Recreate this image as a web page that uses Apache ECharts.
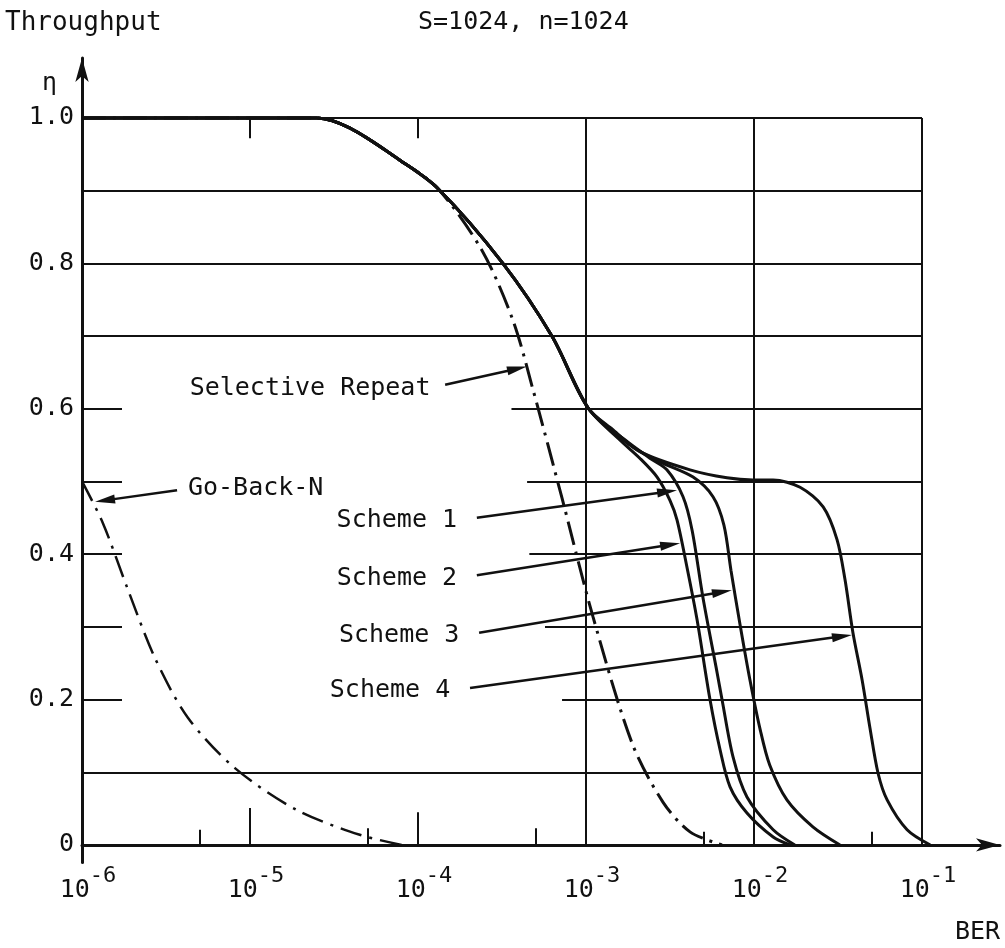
<!DOCTYPE html>
<html>
<head>
<meta charset="utf-8">
<script src="https://cdn.jsdelivr.net/npm/echarts@6/dist/echarts.min.js"></script>
<style>
  html, body { margin: 0; padding: 0; background: #fff; }
  #chart { width: 1005px; height: 948px; }
</style>
</head>
<body>
<div id="chart"></div>
<script>
// Throughput η versus bit error rate, S=1024, n=1024

// Upper branch shared by the four schemes (solid)
const headBER = [1e-6, 1e-5, 2.5e-5, 3.94e-5, 7.8e-5, 1.30e-4, 3.2e-4, 6.3e-4, 1.03e-3];
const headEta = [1.0, 1.0, 1.0, 0.986, 0.942, 0.904, 0.800, 0.699, 0.601];

// Lower branches of each scheme
const scheme1BER = [1.71e-3, 2.40e-3, 3.03e-3, 3.78e-3, 4.28e-3, 4.96e-3, 6.03e-3, 6.45e-3, 7.5e-3, 9.08e-3, 1.30e-2, 1.75e-2];
const scheme1Eta = [0.557, 0.532, 0.516, 0.479, 0.433, 0.341, 0.237, 0.200, 0.121, 0.066, 0.021, 0];

const scheme2BER = [1.59e-3, 2.09e-3, 2.65e-3, 3.16e-3, 3.48e-3, 3.99e-3, 4.58e-3, 5.47e-3, 6.28e-3, 7.2e-3, 9.08e-3, 1.30e-2, 1.64e-2];
const scheme2Eta = [0.557, 0.532, 0.506, 0.474, 0.447, 0.382, 0.310, 0.200, 0.131, 0.080, 0.044, 0.011, 0];

const scheme3BER = [1.83e-3, 2.75e-3, 4.34e-3, 5.70e-3, 6.62e-3, 7.29e-3, 8.26e-3, 9.46e-3, 1.09e-2, 1.24e-2, 1.57e-2, 2.24e-2, 3.25e-2];
const scheme3Eta = [0.550, 0.527, 0.506, 0.479, 0.440, 0.378, 0.303, 0.227, 0.158, 0.110, 0.062, 0.025, 0];

const scheme4BER = [1.45e-3, 2.09e-3, 4.16e-3, 6.9e-3, 9.86e-3, 1.30e-2, 1.88e-2, 2.58e-2, 3.12e-2, 3.48e-2, 3.88e-2, 4.40e-2, 4.9e-2, 5.47e-2, 6.2e-2, 8.15e-2, 0.112];
const scheme4Eta = [0.571, 0.541, 0.516, 0.505, 0.502, 0.502, 0.492, 0.465, 0.420, 0.365, 0.292, 0.227, 0.161, 0.099, 0.062, 0.021, 0];

// Selective Repeat (dash-dot)
const srBER = [1e-6, 1e-5, 2.5e-5, 3.94e-5, 7.8e-5, 1.30e-4, 2.40e-4, 3.67e-4, 4.84e-4, 7.2e-4, 1.10e-3, 1.88e-3, 2.87e-3, 4.16e-3, 6.45e-3];
const srEta = [1.0, 1.0, 1.0, 0.986, 0.942, 0.904, 0.818, 0.722, 0.626, 0.477, 0.314, 0.140, 0.059, 0.018, 0];

// Go-Back-N (dash-dot)
const gbnBER = [1e-6, 1.33e-6, 1.85e-6, 2.72e-6, 4.27e-6, 8.1e-6, 1.9e-5, 4.5e-5, 8.0e-5];
const gbnEta = [0.500, 0.443, 0.355, 0.257, 0.175, 0.106, 0.048, 0.014, 0];

// Tick labels
const yTickValues = [0, 0.2, 0.4, 0.6, 0.8, 1.0];
const xDecadeExponents = [-6, -5, -4, -3, -2, -1];

// Ruled lines of the chart sheet
const RULE_LEFT = 1.001e-6;
const RULE_RIGHT = 1e-1;
const fullRows = [0.1, 0.7, 0.8, 0.9, 1.0];
const brokenRows = [0.2, 0.3, 0.4, 0.5, 0.6];
const brokenRowResume = [7.2e-4, 5.7e-4, 4.6e-4, 4.46e-4, 3.6e-4];
const stubEnd = 1.73e-6;
const ruledColumns = [1e-3, 1e-2, 1e-1];
const bottomTicks = [5e-6, 1e-5, 5e-5, 1e-4, 5e-4, 5e-3, 5e-2];
const bottomTickLen = [0.021, 0.051, 0.023, 0.045, 0.023, 0.018, 0.018];
const topTicks = [1e-5, 1e-4];
const topTickLen = 0.028;

// Callouts: label text, arrow tail and arrow head (BER, η)
const callouts = [
  { text: 'Selective Repeat', from: [1.45e-4, 0.633], to: [3.89e-4, 0.655], gap: 15 },
  { text: 'Go-Back-N', from: [3.68e-6, 0.488], to: [1.37e-6, 0.474], gap: 11 },
  { text: 'Scheme 1', from: [2.24e-4, 0.450], to: [3.04e-3, 0.486], gap: 20 },
  { text: 'Scheme 2', from: [2.24e-4, 0.371], to: [3.17e-3, 0.413], gap: 20 },
  { text: 'Scheme 3', from: [2.31e-4, 0.292], to: [6.45e-3, 0.348], gap: 20 },
  { text: 'Scheme 4', from: [2.04e-4, 0.216], to: [3.34e-2, 0.287], gap: 20 }
];

const INK = '#111';
const FONT = '"DejaVu Sans Mono", "Liberation Mono", monospace';

const zip = (xs, ys) => xs.map((x, i) => [x, ys[i]]);
const headPts = zip(headBER, headEta);

const rules = [];
fullRows.forEach(v => rules.push([{ coord: [RULE_LEFT, v] }, { coord: [RULE_RIGHT, v] }]));
brokenRows.forEach((v, i) => {
  rules.push([{ coord: [RULE_LEFT, v] }, { coord: [stubEnd, v] }]);
  rules.push([{ coord: [brokenRowResume[i], v] }, { coord: [RULE_RIGHT, v] }]);
});
ruledColumns.forEach(b => rules.push([{ coord: [b, 0] }, { coord: [b, 1.0] }]));
bottomTicks.forEach((b, i) => rules.push([{ coord: [b, 0] }, { coord: [b, bottomTickLen[i]] }]));
topTicks.forEach(b => rules.push([{ coord: [b, 1.0] }, { coord: [b, 1.0 - topTickLen] }]));

const arrows = callouts.map(c => [
  {
    coord: c.from,
    label: {
      show: true, position: 'start', formatter: c.text, distance: c.gap,
      color: INK, fontFamily: FONT, fontSize: 25
    }
  },
  { coord: c.to }
]);

const curve = (name, data, type, width) => ({
  name, type: 'line', data, showSymbol: false, smooth: 0.3, silent: true,
  lineStyle: { color: INK, width, type, cap: 'butt' }, z: 3
});

const isDecade = v => {
  const e = Math.log10(v);
  return Math.abs(e - Math.round(e)) < 1e-6 && xDecadeExponents.includes(Math.round(e));
};

const chart = echarts.init(document.getElementById('chart'), null, { renderer: 'canvas' });
chart.setOption({
  backgroundColor: '#fff',
  animation: false,
  title: [
    { text: 'Throughput', left: 5, top: 10, padding: 0, textStyle: { fontFamily: FONT, fontWeight: 'normal', fontSize: 26, color: INK } },
    { text: 'S=1024, n=1024', left: 418, top: 10, padding: 0, textStyle: { fontFamily: FONT, fontWeight: 'normal', fontSize: 25, color: INK } },
    { text: 'η', left: 42, top: 71, padding: 0, textStyle: { fontFamily: FONT, fontWeight: 'normal', fontSize: 25, color: INK } },
    { text: 'BER', left: 955, top: 920, padding: 0, textStyle: { fontFamily: FONT, fontWeight: 'normal', fontSize: 25, color: INK } }
  ],
  grid: { left: 82, right: 5, top: 58, bottom: 85.6, containLabel: false, outerBoundsMode: 'none' },
  xAxis: {
    type: 'log', logBase: 10, min: 1e-6, max: 0.2912,
    splitLine: { show: false }, axisTick: { show: false }, minorTick: { show: false }, minorSplitLine: { show: false },
    axisLine: { show: true, onZero: true, lineStyle: { color: INK, width: 3 }, symbol: ['none', 'arrow'], symbolSize: [10, 24] },
    axisLabel: {
      interval: 0, margin: 3, padding: [0, 0, 0, 12],
      formatter: v => isDecade(v) ? '{b|10}{s|' + Math.round(Math.log10(v)) + '}' : '',
      rich: {
        b: { fontFamily: FONT, fontSize: 25, color: INK, lineHeight: 38, verticalAlign: 'bottom' },
        s: { fontFamily: FONT, fontSize: 22, color: INK, lineHeight: 18, verticalAlign: 'top' }
      }
    }
  },
  yAxis: {
    type: 'value', min: -0.024, max: 1.0825,
    splitLine: { show: false }, axisTick: { show: false },
    axisLine: { show: true, lineStyle: { color: INK, width: 3 }, symbol: ['none', 'arrow'], symbolSize: [10, 24] },
    axisLabel: {
      margin: 8, fontFamily: FONT, fontSize: 25, color: INK,
      formatter: v => {
        const hit = yTickValues.find(t => Math.abs(t - v) < 1e-6);
        if (hit === undefined) return '';
        return hit === 0 ? '0' : hit.toFixed(1);
      }
    }
  },
  series: [
    {
      name: 'rules', type: 'line', data: [], silent: true, z: 1,
      markLine: {
        silent: true, symbol: 'none', animation: false,
        label: { show: false },
        lineStyle: { color: INK, width: 2, type: 'solid' },
        emphasis: { disabled: true },
        data: rules
      }
    },
    curve('Selective Repeat', zip(srBER, srEta), [24, 7, 3, 7], 3),
    curve('Go-Back-N', zip(gbnBER, gbnEta), [22, 8, 3, 8], 2.5),
    curve('Scheme 1', headPts.concat(zip(scheme1BER, scheme1Eta)), 'solid', 3),
    curve('Scheme 2', headPts.concat(zip(scheme2BER, scheme2Eta)), 'solid', 3),
    curve('Scheme 3', headPts.concat(zip(scheme3BER, scheme3Eta)), 'solid', 3),
    curve('Scheme 4', headPts.concat(zip(scheme4BER, scheme4Eta)), 'solid', 3),
    {
      name: 'callouts', type: 'line', data: [], silent: true, z: 4,
      markLine: {
        silent: true, symbol: ['none', 'triangle'], symbolSize: [9, 20], animation: false,
        lineStyle: { color: INK, width: 2.5, type: 'solid' },
        itemStyle: { color: INK },
        emphasis: { disabled: true },
        data: arrows
      }
    }
  ]
});
</script>
</body>
</html>
